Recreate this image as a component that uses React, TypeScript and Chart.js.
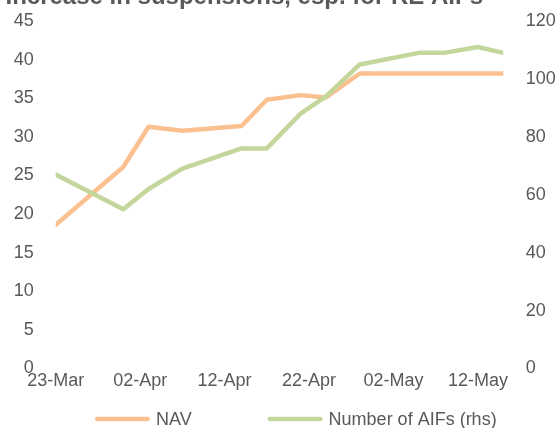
import React, { useEffect, useRef } from "react";
import { Chart, registerables } from "chart.js";

Chart.register(...registerables);

// ---- data ----
const chartTitle = "Increase in suspensions, esp. for RE AIFs";
const seriesLabels = ["NAV", "Number of AIFs (rhs)"];
const startDate = "2020-03-23";
const obsDates = [
  "2020-03-23", "2020-03-31", "2020-04-03", "2020-04-07", "2020-04-14",
  "2020-04-17", "2020-04-21", "2020-04-24", "2020-04-28", "2020-05-05",
  "2020-05-08", "2020-05-12", "2020-05-15",
];
const navValues = [18.6, 26.1, 31.3, 30.8, 31.4, 34.8, 35.4, 35.1, 38.2, 38.2, 38.2, 38.2, 38.2];
const aifCounts = [67, 55, 62, 69, 76, 76, 88, 94, 105, 109, 109, 111, 109];
const xTickDays = [0, 10, 20, 30, 40, 50];
const xTickLabels = ["23-Mar", "02-Apr", "12-Apr", "22-Apr", "02-May", "12-May"];
const leftMax = 45;
const leftStep = 5;
const rightMax = 120;
const rightStep = 20;

// ---- styling / layout ----
const FONT = "'Liberation Sans', Arial, sans-serif";
const TEXT = "#595959";
const NAV_COLOR = "#FAC090";
const AIF_COLOR = "#C3D69B";
const W = 558;
const SHIFT = 17;
const H = 428 + SHIFT;
const LEGEND_X = [95, 267.6];
const LEGEND_SAMPLE = 55;
const LEGEND_Y = 419 + SHIFT;

const dayOf = (d: string) => (Date.parse(d) - Date.parse(startDate)) / 86400000;

const lineLegend = {
  id: "lineLegend",
  afterDraw(chart: any) {
    const ctx = chart.ctx;
    ctx.save();
    chart.data.datasets.forEach((ds: any, i: number) => {
      const x0 = LEGEND_X[i];
      const lw = ds.borderWidth;
      ctx.strokeStyle = ds.borderColor;
      ctx.lineWidth = lw;
      ctx.lineCap = "round";
      ctx.beginPath();
      ctx.moveTo(x0 + lw / 2, LEGEND_Y);
      ctx.lineTo(x0 + LEGEND_SAMPLE - lw / 2, LEGEND_Y);
      ctx.stroke();
      ctx.fillStyle = TEXT;
      ctx.font = `18px ${FONT}`;
      ctx.textBaseline = "middle";
      ctx.textAlign = "left";
      ctx.fillText(ds.label, x0 + LEGEND_SAMPLE + 6, LEGEND_Y + 1);
    });
    ctx.restore();
  },
};

export default function App() {
  const ref = useRef<HTMLCanvasElement | null>(null);

  useEffect(() => {
    if (!ref.current) return;
    const xMax = dayOf(obsDates[obsDates.length - 1]);
    const tickFont = { family: FONT, size: 18 };
    const chart = new Chart(ref.current, {
      type: "line",
      data: {
        datasets: [
          {
            label: seriesLabels[0],
            data: obsDates.map((d, i) => ({ x: dayOf(d), y: navValues[i] })),
            borderColor: NAV_COLOR,
            backgroundColor: NAV_COLOR,
            borderWidth: 4.5,
            pointRadius: 0,
            tension: 0,
            borderCapStyle: "round",
            borderJoinStyle: "round",
            yAxisID: "y",
            order: 1,
          },
          {
            label: seriesLabels[1],
            data: obsDates.map((d, i) => ({ x: dayOf(d), y: aifCounts[i] })),
            borderColor: AIF_COLOR,
            backgroundColor: AIF_COLOR,
            borderWidth: 4.5,
            pointRadius: 0,
            tension: 0,
            borderCapStyle: "round",
            borderJoinStyle: "round",
            yAxisID: "y1",
            order: 0,
          },
        ],
      },
      options: {
        responsive: false,
        animation: false,
        events: [],
        layout: { padding: { left: 5.5, right: 0, top: 0, bottom: 29.5 } },
        scales: {
          x: {
            type: "linear",
            min: 0,
            max: xMax,
            grid: { display: false, drawTicks: false },
            border: { display: false },
            ticks: {
              font: tickFont,
              color: TEXT,
              padding: 2,
              autoSkip: false,
              maxRotation: 0,
              callback: (_v: any, i: number) => xTickLabels[i],
            },
            afterBuildTicks: (s: any) => {
              s.ticks = xTickDays.map((v) => ({ value: v }));
            },
            afterFit: (s: any) => {
              s.height = 30;
            },
          },
          y: {
            position: "left",
            min: 0,
            max: leftMax,
            grid: { display: false, drawTicks: false },
            border: { display: false },
            ticks: { stepSize: leftStep, font: tickFont, color: TEXT, padding: 22 },
            afterFit: (s: any) => {
              s.width = 55.7 - 5.5;
            },
          },
          y1: {
            position: "right",
            min: 0,
            max: rightMax,
            grid: { display: false, drawTicks: false },
            border: { display: false },
            ticks: { stepSize: rightStep, font: tickFont, color: TEXT, padding: 22.5 },
            afterFit: (s: any) => {
              s.width = W - 503.3;
            },
          },
        },
        plugins: {
          legend: { display: false },
          tooltip: { enabled: false },
          title: {
            display: true,
            text: chartTitle,
            align: "start",
            color: TEXT,
            font: { family: FONT, size: 24, weight: "bold", lineHeight: 1.2 },
            padding: { top: 0, bottom: 9.2 },
          },
        },
      } as any,
      plugins: [lineLegend],
    });
    return () => chart.destroy();
  }, []);

  return (
    <div style={{ position: "absolute", left: 0, top: -SHIFT, width: W, height: H }}>
      <canvas ref={ref} width={W} height={H} style={{ display: "block", width: W, height: H }} />
    </div>
  );
}
